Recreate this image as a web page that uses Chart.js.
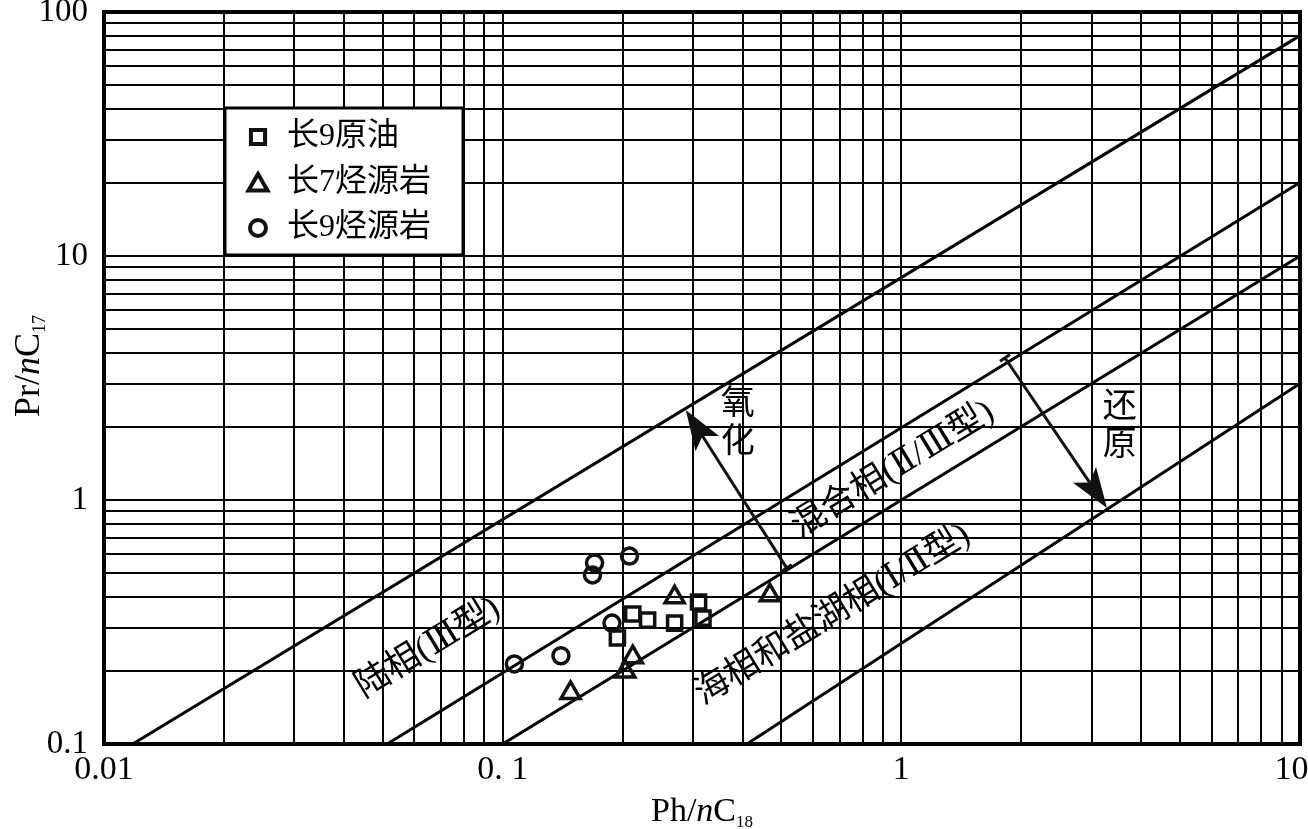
<!DOCTYPE html>
<html>
<head>
<meta charset="utf-8">
<script src="https://cdn.jsdelivr.net/npm/chart.js@4/dist/chart.umd.min.js"></script>
<style>
  html, body { margin: 0; padding: 0; background: #fff; overflow: hidden; }
  #wrap { width: 1308px; height: 829px; }
  canvas { display: block; }
</style>
</head>
<body>
<div id="wrap"><canvas id="chart"></canvas></div>
<script>
// --- data (Ph/nC18 vs Pr/nC17) ---
const seriesNames = ['长9原油', '长7烃源岩', '长9烃源岩'];

// 长9原油
const oilX = [0.194, 0.212, 0.231, 0.270, 0.310, 0.318];
const oilY = [0.272, 0.341, 0.322, 0.313, 0.382, 0.328];
// 长7烃源岩
const c7X = [0.148, 0.203, 0.212, 0.270, 0.468];
const c7Y = [0.162, 0.198, 0.227, 0.399, 0.407];
// 长9烃源岩
const c9X = [0.107, 0.140, 0.170, 0.168, 0.208, 0.188];
const c9Y = [0.213, 0.230, 0.552, 0.493, 0.589, 0.313];

// facies boundary lines (end points)
const line1X = [0.0118, 10], line1Y = [0.1, 80];
const line2X = [0.0513, 10], line2Y = [0.1, 20];
const line3X = [0.1, 10],    line3Y = [0.1, 10];
const line4X = [0.41, 10],   line4Y = [0.1, 3];

// zone labels
const zoneText = ['陆相(Ⅲ型)', '混合相(Ⅱ/Ⅲ型)', '海相和盐湖相(Ⅰ/Ⅱ型)'];
const zoneX = [0.065, 0.953, 0.673];
const zoneY = [0.247, 1.327, 0.338];

// oxidation / reduction arrows
const oxArrowX = [0.516, 0.288], oxArrowY = [0.526, 2.34];
const redArrowX = [1.82, 3.28],  redArrowY = [3.82, 0.927];
const redoxText = ['氧化', '还原'];
const redoxX = [0.389, 3.53];
const redoxY = [2.05, 1.99];

// axis ticks
const xTickVals = [0.01, 0.1, 1, 10];
const xTickText = ['0.01', '0. 1', '1', '10\u2002'];
const yTickVals = [0.1, 1, 10, 100];
const yTickText = ['0.1', '1', '10', '100'];

const SERIF = '"Liberation Serif", "Times New Roman", serif';
const MIXED = '"Liberation Serif", "DejaVu Serif", "Noto Sans CJK SC", serif';
const INK = '#111';

function logGrid(min, max) {
  const out = [];
  for (let e = Math.round(Math.log10(min)); e < Math.round(Math.log10(max)); e++) {
    for (let m = 1; m < 10; m++) out.push(m * Math.pow(10, e));
  }
  out.push(max);
  return out;
}

function labelFor(vals, texts, v) {
  const i = vals.findIndex(t => Math.abs(Math.log10(t) - Math.log10(v)) < 1e-6);
  return i < 0 ? '' : texts[i];
}

function pts(xs, ys) {
  return xs.map((x, i) => ({ x: x, y: ys[i] }));
}

function lineSet(xs, ys) {
  return {
    type: 'line', data: pts(xs, ys), borderColor: '#000', borderWidth: 3,
    pointRadius: 0, fill: false, tension: 0
  };
}

function drawRich(ctx, parts, cx, baseY) {
  let w = 0;
  parts.forEach(p => { ctx.font = p.font; p.w = ctx.measureText(p.t).width; w += p.w; });
  let x = cx - w / 2;
  ctx.textAlign = 'left';
  ctx.textBaseline = 'alphabetic';
  parts.forEach(p => { ctx.font = p.font; ctx.fillText(p.t, x, baseY + (p.dy || 0)); x += p.w; });
}

function drawArrow(ctx, x0, y0, x1, y1) {
  const ang = Math.atan2(y1 - y0, x1 - x0);
  const len = 40, half = 14, notch = 9;
  const bx = x1 - Math.cos(ang) * (len - notch), by = y1 - Math.sin(ang) * (len - notch);
  ctx.save();
  ctx.strokeStyle = '#111';
  ctx.fillStyle = '#111';
  ctx.lineWidth = 3;
  ctx.beginPath();
  ctx.moveTo(x0, y0);
  ctx.lineTo(bx, by);
  ctx.stroke();
  // small cap at the start
  ctx.beginPath();
  ctx.moveTo(x0 - Math.sin(ang) * 6, y0 + Math.cos(ang) * 6);
  ctx.lineTo(x0 + Math.sin(ang) * 6, y0 - Math.cos(ang) * 6);
  ctx.stroke();
  // head
  const rx = x1 - Math.cos(ang) * len, ry = y1 - Math.sin(ang) * len;
  ctx.beginPath();
  ctx.moveTo(x1, y1);
  ctx.lineTo(rx - Math.sin(ang) * half, ry + Math.cos(ang) * half);
  ctx.lineTo(bx, by);
  ctx.lineTo(rx + Math.sin(ang) * half, ry - Math.cos(ang) * half);
  ctx.closePath();
  ctx.fill();
  ctx.restore();
}

const faciesPlugin = {
  id: 'facies',
  afterDatasetsDraw(chart) {
    const ctx = chart.ctx, xs = chart.scales.x, ys = chart.scales.y;
    const ang = Math.atan2(
      ys.getPixelForValue(line3Y[1]) - ys.getPixelForValue(line3Y[0]),
      xs.getPixelForValue(line3X[1]) - xs.getPixelForValue(line3X[0]));

    ctx.save();
    ctx.fillStyle = '#000';
    ctx.font = '35px ' + MIXED;
    ctx.textAlign = 'center';
    ctx.textBaseline = 'middle';
    zoneText.forEach((t, i) => {
      ctx.save();
      ctx.translate(xs.getPixelForValue(zoneX[i]), ys.getPixelForValue(zoneY[i]));
      ctx.rotate(ang);
      ctx.fillText(t, 0, 0);
      ctx.restore();
    });

    drawArrow(ctx, xs.getPixelForValue(oxArrowX[0]), ys.getPixelForValue(oxArrowY[0]),
      xs.getPixelForValue(oxArrowX[1]), ys.getPixelForValue(oxArrowY[1]));
    drawArrow(ctx, xs.getPixelForValue(redArrowX[0]), ys.getPixelForValue(redArrowY[0]),
      xs.getPixelForValue(redArrowX[1]), ys.getPixelForValue(redArrowY[1]));

    // vertical two-character labels
    ctx.font = '34px ' + MIXED;
    ctx.fillStyle = '#000';
    redoxText.forEach((t, i) => {
      const px = xs.getPixelForValue(redoxX[i]), py = ys.getPixelForValue(redoxY[i]);
      ctx.fillText(t[0], px, py - 19);
      ctx.fillText(t[1], px, py + 19);
    });
    ctx.restore();
  },
  afterDraw(chart) {
    const ctx = chart.ctx, a = chart.chartArea;
    ctx.save();
    // heavy frame
    ctx.strokeStyle = '#000';
    ctx.lineWidth = 4;
    ctx.strokeRect(a.left, a.top, a.right - a.left, a.bottom - a.top);

    // legend box
    const lb = { left: 225, top: 108, width: 238, height: 147 };
    ctx.fillStyle = '#fff';
    ctx.fillRect(lb.left, lb.top, lb.width, lb.height);
    ctx.lineWidth = 3;
    ctx.strokeRect(lb.left, lb.top, lb.width, lb.height);
    const rows = [29, 75, 120];
    chart.data.datasets.slice(0, 3).forEach((ds, i) => {
      const y = lb.top + rows[i];
      ctx.strokeStyle = ds.borderColor;
      ctx.fillStyle = 'rgba(0,0,0,0)';
      ctx.lineWidth = 4;
      Chart.helpers.drawPoint(ctx, {
        pointStyle: ds.pointStyle, radius: ds.pointRadius, borderWidth: 4, rotation: 0
      }, lb.left + 33, ds.pointStyle === 'triangle' ? y + 2 : y);
      ctx.fillStyle = '#000';
      ctx.font = '32px ' + MIXED;
      ctx.textAlign = 'left';
      ctx.textBaseline = 'middle';
      ctx.fillText(ds.label, lb.left + 62, y);
    });

    // axis titles
    ctx.fillStyle = '#000';
    drawRich(ctx, [
      { t: 'Ph/', font: '34px ' + SERIF },
      { t: 'n', font: 'italic 34px ' + SERIF },
      { t: 'C', font: '34px ' + SERIF },
      { t: '18', font: '17px ' + SERIF, dy: 6 }
    ], (a.left + a.right) / 2, 821);
    ctx.save();
    ctx.translate(39, (a.top + a.bottom) / 2 - 12);
    ctx.rotate(-Math.PI / 2);
    drawRich(ctx, [
      { t: 'Pr/', font: '36px ' + SERIF },
      { t: 'n', font: 'italic 36px ' + SERIF },
      { t: 'C', font: '36px ' + SERIF },
      { t: '17', font: '18px ' + SERIF, dy: 6 }
    ], 0, 0);
    ctx.restore();
    ctx.restore();
  }
};

const ctx = document.getElementById('chart').getContext('2d');
new Chart(ctx, {
  data: {
    datasets: [
      { type: 'scatter', label: seriesNames[0], data: pts(oilX, oilY), pointStyle: 'rect',
        pointRadius: 10, borderWidth: 3.5, borderColor: INK, backgroundColor: 'rgba(0,0,0,0)' },
      { type: 'scatter', label: seriesNames[1], data: pts(c7X, c7Y), pointStyle: 'triangle',
        pointRadius: 11, borderWidth: 3.5, borderColor: INK, backgroundColor: 'rgba(0,0,0,0)' },
      { type: 'scatter', label: seriesNames[2], data: pts(c9X, c9Y), pointStyle: 'circle',
        pointRadius: 8, borderWidth: 3.5, borderColor: INK, backgroundColor: 'rgba(0,0,0,0)' },
      lineSet(line1X, line1Y),
      lineSet(line2X, line2Y),
      lineSet(line3X, line3Y),
      lineSet(line4X, line4Y)
    ]
  },
  options: {
    responsive: true,
    maintainAspectRatio: false,
    animation: false,
    devicePixelRatio: 1,
    layout: { autoPadding: false, padding: { left: 0, right: 8, top: 12, bottom: 0 } },
    plugins: { legend: { display: false }, tooltip: { enabled: false } },
    scales: {
      x: {
        type: 'logarithmic', position: 'bottom', min: 0.01, max: 10,
        afterBuildTicks: s => { s.ticks = logGrid(0.01, 10).map(v => ({ value: v })); },
        afterFit: s => { s.height = 85; s.paddingLeft = 0; s.paddingRight = 0; },
        ticks: {
          autoSkip: false, maxRotation: 0, minRotation: 0, padding: 6, color: '#000',
          font: { family: SERIF, size: 34 },
          callback: v => labelFor(xTickVals, xTickText, v)
        },
        grid: { color: '#000', lineWidth: 2, drawTicks: false },
        border: { display: false }
      },
      y: {
        type: 'logarithmic', position: 'left', min: 0.1, max: 100,
        afterBuildTicks: s => { s.ticks = logGrid(0.1, 100).map(v => ({ value: v })); },
        afterFit: s => { s.width = 104; s.paddingTop = 0; s.paddingBottom = 0; },
        ticks: {
          autoSkip: false, padding: 16, color: '#000',
          font: { family: SERIF, size: 33 },
          callback: v => labelFor(yTickVals, yTickText, v)
        },
        grid: { color: '#000', lineWidth: 2, drawTicks: false },
        border: { display: false }
      }
    }
  },
  plugins: [faciesPlugin]
});
</script>
</body>
</html>
